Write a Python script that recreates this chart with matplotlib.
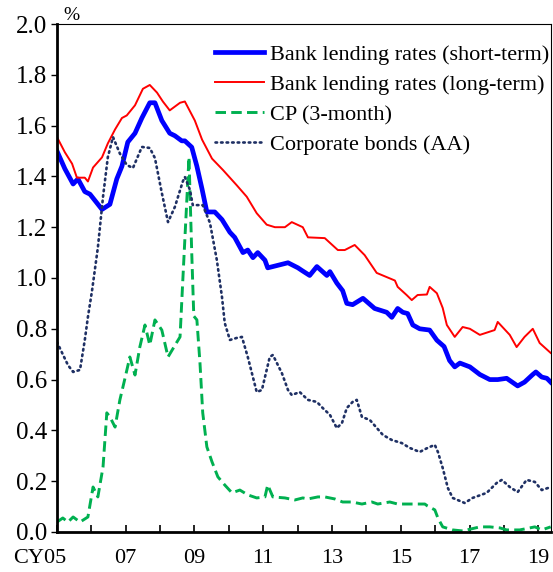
import matplotlib.pyplot as plt
import matplotlib.transforms as mtrans

plt.rcParams['font.family'] = ['Liberation Serif', 'DejaVu Serif']

# short-term bank lending rates (decimal year, %)
short_t = [2005.00, 2005.23, 2005.47, 2005.61, 2005.81, 2005.96, 2006.31, 2006.54, 2006.74, 2006.89,
           2007.06, 2007.27, 2007.47, 2007.70, 2007.85, 2008.05, 2008.28, 2008.43, 2008.63, 2008.72,
           2008.92, 2009.07, 2009.22, 2009.36, 2009.59, 2009.80, 2010.03, 2010.17, 2010.41, 2010.55,
           2010.70, 2010.84, 2011.05, 2011.13, 2011.28, 2011.72, 2012.01, 2012.12, 2012.35, 2012.56,
           2012.85, 2012.94, 2013.14, 2013.31, 2013.43, 2013.60, 2013.90, 2014.24, 2014.59, 2014.74,
           2014.91, 2015.06, 2015.20, 2015.35, 2015.55, 2015.84, 2016.05, 2016.26, 2016.42, 2016.57,
           2016.72, 2017.01, 2017.30, 2017.59, 2017.82, 2018.08, 2018.40, 2018.60, 2018.84, 2018.93,
           2019.10, 2019.25, 2019.36]
short_v = [1.50, 1.43, 1.37, 1.39, 1.34, 1.33, 1.27, 1.29, 1.39, 1.44,
           1.535, 1.57, 1.63, 1.69, 1.69, 1.62, 1.57, 1.56, 1.54, 1.54,
           1.515, 1.44, 1.35, 1.26, 1.26, 1.23, 1.18, 1.16, 1.10, 1.11,
           1.08, 1.10, 1.07, 1.04, 1.045, 1.06, 1.04, 1.03, 1.01, 1.045,
           1.01, 1.025, 0.98, 0.95, 0.90, 0.895, 0.92, 0.88, 0.865, 0.845,
           0.88, 0.865, 0.86, 0.815, 0.80, 0.795, 0.755, 0.73, 0.675, 0.65,
           0.665, 0.65, 0.62, 0.60, 0.60, 0.605, 0.575, 0.59, 0.62, 0.63,
           0.61, 0.605, 0.59]

# long-term bank lending rates
long_t = [2005.00, 2005.23, 2005.44, 2005.58, 2005.81, 2005.90, 2006.05, 2006.31, 2006.48, 2006.69,
          2006.89, 2007.03, 2007.27, 2007.50, 2007.70, 2007.91, 2008.08, 2008.28, 2008.58, 2008.72,
          2009.01, 2009.22, 2009.51, 2009.83, 2010.23, 2010.52, 2010.81, 2011.10, 2011.34, 2011.63,
          2011.83, 2012.15, 2012.30, 2012.79, 2013.17, 2013.37, 2013.66, 2013.95, 2014.30, 2014.83,
          2014.91, 2015.17, 2015.32, 2015.49, 2015.76, 2015.84, 2016.05, 2016.22, 2016.34, 2016.57,
          2016.80, 2017.01, 2017.30, 2017.73, 2017.82, 2018.17, 2018.37, 2018.60, 2018.84, 2019.04,
          2019.36]
long_v = [1.555, 1.495, 1.45, 1.395, 1.395, 1.38, 1.435, 1.475, 1.53, 1.585,
          1.63, 1.64, 1.68, 1.745, 1.76, 1.73, 1.695, 1.66, 1.69, 1.695,
          1.62, 1.545, 1.47, 1.425, 1.365, 1.32, 1.255, 1.21, 1.20, 1.20,
          1.22, 1.20, 1.16, 1.157, 1.11, 1.11, 1.13, 1.09, 1.02, 0.99,
          0.965, 0.933, 0.913, 0.933, 0.935, 0.965, 0.94, 0.882, 0.815, 0.768,
          0.807, 0.80, 0.776, 0.795, 0.827, 0.776, 0.728, 0.768, 0.80, 0.744,
          0.705]

# CP (3-month)
cp_t = [2005.00, 2005.17, 2005.32, 2005.47, 2005.67, 2005.90, 2006.05, 2006.19, 2006.34, 2006.45,
        2006.54, 2006.69, 2006.83, 2006.98, 2007.12, 2007.27, 2007.41, 2007.56, 2007.70, 2007.85,
        2008.05, 2008.23, 2008.49, 2008.58, 2008.66, 2008.84, 2008.92, 2008.98, 2009.07, 2009.16,
        2009.24, 2009.36, 2009.51, 2009.68, 2009.88, 2010.09, 2010.32, 2010.55, 2010.81, 2011.05,
        2011.13, 2011.28, 2011.63, 2011.92, 2012.15, 2012.30, 2012.59, 2012.79, 2013.08, 2013.31,
        2013.58, 2013.87, 2014.16, 2014.33, 2014.68, 2014.91, 2015.70, 2015.78, 2015.99, 2016.08,
        2016.22, 2016.51, 2016.80, 2017.30, 2017.59, 2017.88, 2018.08, 2018.46, 2018.90, 2019.10,
        2019.36]
cp_v = [0.039, 0.055, 0.039, 0.059, 0.039, 0.059, 0.177, 0.138, 0.256, 0.469,
        0.453, 0.413, 0.52, 0.606, 0.689, 0.618, 0.728, 0.815, 0.736, 0.835,
        0.795, 0.689, 0.748, 0.768, 0.99, 1.476, 1.10, 0.85, 0.835, 0.665,
        0.469, 0.335, 0.276, 0.217, 0.185, 0.154, 0.165, 0.146, 0.134, 0.138,
        0.185, 0.138, 0.134, 0.126, 0.134, 0.130, 0.138, 0.138, 0.130, 0.118,
        0.118, 0.110, 0.118, 0.110, 0.118, 0.110, 0.110, 0.102, 0.087, 0.055,
        0.020, 0.008, 0.004, 0.020, 0.020, 0.016, 0.008, 0.008, 0.020, 0.008,
        0.020]

# corporate bonds (AA)
cb_t = [2005.00, 2005.15, 2005.32, 2005.47, 2005.67, 2005.81, 2005.90, 2006.02, 2006.19, 2006.34,
        2006.48, 2006.63, 2006.83, 2007.03, 2007.21, 2007.47, 2007.70, 2007.85, 2008.05, 2008.23,
        2008.43, 2008.66, 2008.72, 2008.87, 2008.95, 2009.24, 2009.45, 2009.65, 2009.80, 2009.88,
        2010.03, 2010.23, 2010.38, 2010.55, 2010.81, 2010.96, 2011.19, 2011.28, 2011.54, 2011.72,
        2011.83, 2012.06, 2012.30, 2012.56, 2012.73, 2012.94, 2013.14, 2013.29, 2013.43, 2013.60,
        2013.72, 2013.87, 2014.10, 2014.48, 2014.74, 2015.03, 2015.26, 2015.55, 2015.78, 2015.99,
        2016.08, 2016.22, 2016.37, 2016.51, 2016.86, 2017.09, 2017.50, 2017.79, 2017.94, 2018.17,
        2018.40, 2018.66, 2018.90, 2019.10, 2019.37]
cb_v = [0.748, 0.705, 0.657, 0.63, 0.638, 0.756, 0.846, 0.95, 1.12, 1.32,
        1.476, 1.555, 1.49, 1.445, 1.433, 1.516, 1.512, 1.472, 1.335, 1.22,
        1.28, 1.38, 1.398, 1.346, 1.287, 1.287, 1.217, 1.071, 0.925, 0.823,
        0.756, 0.764, 0.768, 0.689, 0.551, 0.559, 0.689, 0.697, 0.626, 0.559,
        0.539, 0.551, 0.52, 0.512, 0.488, 0.461, 0.409, 0.429, 0.488, 0.512,
        0.52, 0.453, 0.441, 0.382, 0.362, 0.35, 0.331, 0.315, 0.331, 0.343,
        0.315, 0.252, 0.173, 0.134, 0.114, 0.134, 0.154, 0.193, 0.205, 0.177,
        0.157, 0.205, 0.197, 0.165, 0.177]

years = list(range(2005, 2020))
year_labels = ['CY05' if y == 2005 else ('%02d' % (y % 100) if y % 2 == 1 else '') for y in years]

fig = plt.figure(figsize=(5.53, 5.72), dpi=100)
ax = fig.add_axes([0.103, 0.07, 0.8934, 0.888])

ax.plot(short_t, short_v, color='#0000FF', lw=3.4, label='Bank lending rates (short-term)')
ax.plot(long_t, long_v, color='#FF0000', lw=1.4, label='Bank lending rates (long-term)')
ax.plot(cp_t, cp_v, color='#00B050', lw=2.1, dashes=(3.6, 1.8), label='CP (3-month)')
ax.plot(cb_t, cb_v, color='#1F3064', lw=1.9, linestyle=(0, (0.6, 1.5)),
        dash_capstyle='round', label='Corporate bonds (AA)')

ax.set_xlim(2005, 2019.37)
ax.set_ylim(0, 2.0)
ax.set_xticks(years)
ax.set_xticklabels(year_labels)
ax.set_yticks([i * 0.2 for i in range(11)])
ax.set_yticklabels(['%.1f' % (i * 0.2) for i in range(11)])
ax.tick_params(axis='x', direction='in', length=5, width=1.2, labelsize=16, pad=12)
ax.tick_params(axis='y', direction='out', length=4, width=1.0, labelsize=18, pad=3)

# "CY05" sits to the left of its tick
lab0 = ax.get_xticklabels()[0]
lab0.set_transform(lab0.get_transform() + mtrans.ScaledTranslation(-0.17, 0, fig.dpi_scale_trans))

for side in ['left', 'bottom']:
    ax.spines[side].set_linewidth(2.0)
for side in ['top', 'right']:
    ax.spines[side].set_linewidth(0.8)

ax.text(0.012, 1.0, '%', transform=ax.transAxes, fontsize=14, ha='left', va='bottom')

ax.legend(loc='upper right', bbox_to_anchor=(1.027, 0.99), frameon=False, fontsize=16,
          handlelength=2.2, handletextpad=0.25, labelspacing=0.42, borderpad=0.2)

plt.savefig('out.png', dpi=100)
